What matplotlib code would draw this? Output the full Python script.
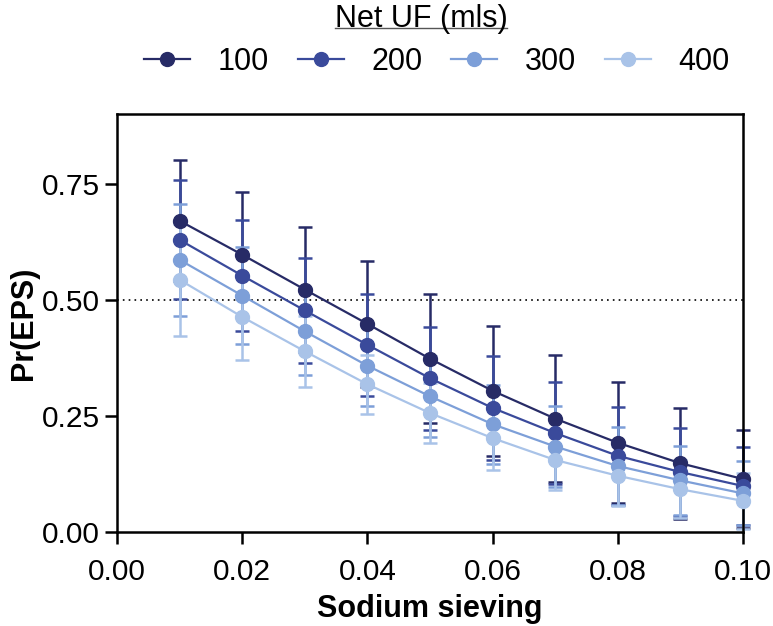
import matplotlib
matplotlib.use("Agg")
import matplotlib.pyplot as plt
from matplotlib.lines import Line2D

plt.rcParams['font.family'] = ['Liberation Sans', 'DejaVu Sans']

# Sodium sieving values
sieving = [0.01, 0.02, 0.03, 0.04, 0.05, 0.06, 0.07, 0.08, 0.09, 0.10]

# Pr(EPS) per net UF group
p100 = [0.670, 0.597, 0.522, 0.448, 0.373, 0.304, 0.244, 0.192, 0.148, 0.114]
p200 = [0.629, 0.552, 0.477, 0.403, 0.331, 0.267, 0.213, 0.164, 0.129, 0.099]
p300 = [0.586, 0.509, 0.432, 0.358, 0.292, 0.232, 0.184, 0.142, 0.111, 0.083]
p400 = [0.543, 0.463, 0.389, 0.318, 0.256, 0.202, 0.155, 0.121, 0.092, 0.067]

# error bar half-widths
e100 = [0.130, 0.134, 0.135, 0.135, 0.139, 0.140, 0.137, 0.130, 0.120, 0.106]
e200 = [0.128, 0.120, 0.114, 0.110, 0.111, 0.112, 0.109, 0.106, 0.094, 0.084]
e300 = [0.120, 0.105, 0.094, 0.086, 0.087, 0.085, 0.088, 0.083, 0.074, 0.069]
e400 = [0.121, 0.092, 0.076, 0.064, 0.065, 0.068, 0.065, 0.065, 0.062, 0.060]

labels = ['100', '200', '300', '400']
colors = ['#272b66', '#3a4a9b', '#7d9fd8', '#a9c3e8']

fig = plt.figure(figsize=(7.73, 6.26), dpi=100)
ax = fig.add_axes([0.1514, 0.1502, 0.8098, 0.6677])

series = [(p100, e100), (p200, e200), (p300, e300), (p400, e400)]

# error bars first, later groups on top
for (p, e), c in zip(series, colors):
    ax.errorbar(sieving, p, yerr=e, fmt='none', ecolor=c, elinewidth=1.8,
                capsize=5, capthick=1.8, zorder=2, clip_on=False)

handles = []
for (p, e), c, lab in zip(series, colors, labels):
    h, = ax.plot(sieving, p, '-o', color=c, lw=1.6, markersize=10,
                 zorder=3, clip_on=False, label=lab)
    handles.append(h)

ax.axhline(0.5, color='black', ls=(0, (1, 2.5)), lw=1.2, zorder=1)

ax.set_xlim(0, 0.10)
ax.set_ylim(0, 0.90)
ax.set_xticks([0.00, 0.02, 0.04, 0.06, 0.08, 0.10])
ax.set_xticklabels(['0.00', '0.02', '0.04', '0.06', '0.08', '0.10'])
ax.set_yticks([0.00, 0.25, 0.50, 0.75])
ax.set_yticklabels(['0.00', '0.25', '0.50', '0.75'])

for s in ax.spines.values():
    s.set_linewidth(1.8)
ax.tick_params(direction='out', length=8.5, width=1.8, labelsize=21.5)
ax.tick_params(axis='x', pad=10)
ax.tick_params(axis='y', pad=4)

ax.set_xlabel('Sodium sieving', fontsize=22, fontweight='bold', labelpad=6)
ax.set_ylabel('Pr(EPS)', fontsize=22, fontweight='bold', labelpad=2)

# legend title with underline
title = fig.text(421 / 773, 1 - 19 / 626, 'Net UF (mls)', ha='center', va='center', fontsize=22)
fig.canvas.draw()
bb = title.get_window_extent().transformed(fig.transFigure.inverted())
fig.add_artist(Line2D([bb.x0, bb.x1], [1 - 28 / 626] * 2, color='#555555', lw=1.0,
                      transform=fig.transFigure))

fig.legend(handles, labels, loc='center', bbox_to_anchor=(437 / 773, 1 - 62 / 626),
           ncol=4, frameon=False, fontsize=22, handlelength=1.5, handletextpad=0.9,
           columnspacing=0.95, borderaxespad=0, borderpad=0)

fig.savefig('out.png', dpi=100)
